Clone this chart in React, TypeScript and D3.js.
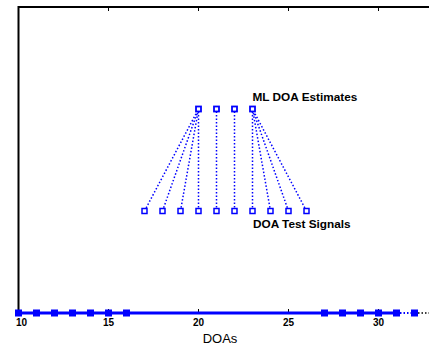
import React from 'react';
import * as d3 from 'd3';

// DOA values
const baseDOAs = [10, 11, 12, 13, 14, 15, 16, 27, 28, 29, 30, 31, 32];
const testDOAs = [17, 18, 19, 20, 21, 22, 23, 24, 25, 26];
const estimateDOAs = [20, 20, 20, 20, 21, 22, 23, 23, 23, 23];
const xTicks = [10, 15, 20, 25, 30];
const levels = { base: 0, test: 1, estimate: 2 };

const W = 429;
const H = 345;

const App: React.FC = () => {
  const x = d3.scaleLinear().domain([10, 35]).range([18.5, 18.5 + 25 * 18]);
  const y = d3.scaleLinear().domain([0, 3]).range([313, 7]);
  const blue = '#0000ff';
  const font = 'Liberation Sans, Arial, Helvetica, sans-serif';
  const uniqueEst = Array.from(new Set(estimateDOAs));

  return (
    <svg width={W} height={H} style={{ position: 'absolute', left: 0, top: 0, background: '#fff' }}>
      {/* dotted links from test signals to estimates */}
      {testDOAs.map((d, i) => (
        <line key={'l' + i} x1={x(d)} y1={y(levels.test)} x2={x(estimateDOAs[i])} y2={y(levels.estimate)}
          stroke={blue} strokeWidth={1.5} strokeDasharray="1.5 2" />
      ))}
      {/* axes box */}
      <line x1={x(10)} y1={y(3)} x2={W} y2={y(3)} stroke="#000" strokeWidth={2} />
      <line x1={x(10)} y1={y(3) - 1} x2={x(10)} y2={y(0)} stroke="#000" strokeWidth={2} />
      {xTicks.map((t, i) => (
        <g key={'t' + t}>
          <line x1={x(t)} x2={x(t)} y1={y(3)} y2={y(3) + 4} stroke="#000" strokeWidth={1} />
          <line x1={x(t)} x2={x(t)} y1={y(0)} y2={y(0) - 4} stroke="#000" strokeWidth={1} />
          <text x={x(t) + (i === 0 ? 3 : 0)} y={326} textAnchor="middle" fontFamily={font} fontSize={10} fontWeight="bold">{t}</text>
        </g>
      ))}
      {/* baseline */}
      <line x1={x(32)} y1={y(0)} x2={W} y2={y(0)} stroke="#000" strokeWidth={1.5} strokeDasharray="1.5 2" />
      <line x1={x(31)} y1={y(0)} x2={x(32)} y2={y(0)} stroke={blue} strokeWidth={2} strokeDasharray="1.5 2" />
      <line x1={x(10)} y1={y(0)} x2={x(31)} y2={y(0)} stroke={blue} strokeWidth={3} />
      {baseDOAs.map((d) => (
        <rect key={'b' + d} x={x(d) - 3} y={y(0) - 3} width={6} height={6} fill={blue} stroke={blue} strokeWidth={1} />
      ))}
      {testDOAs.map((d) => (
        <rect key={'s' + d} x={x(d) - 2.5} y={y(levels.test) - 2.5} width={5} height={5} fill="#fff" stroke={blue} strokeWidth={1.5} />
      ))}
      {uniqueEst.map((d) => (
        <rect key={'e' + d} x={x(d) - 2.5} y={y(levels.estimate) - 2.5} width={5} height={5} fill="#fff" stroke={blue} strokeWidth={1.8} />
      ))}
      <text x={252.5} y={101} fontFamily={font} fontSize={11.8} fontWeight="bold">ML DOA Estimates</text>
      <text x={253} y={228} fontFamily={font} fontSize={11.8} fontWeight="bold">DOA Test Signals</text>
      <text x={220} y={343} textAnchor="middle" fontFamily={font} fontSize={13}>DOAs</text>
    </svg>
  );
};

export default App;
